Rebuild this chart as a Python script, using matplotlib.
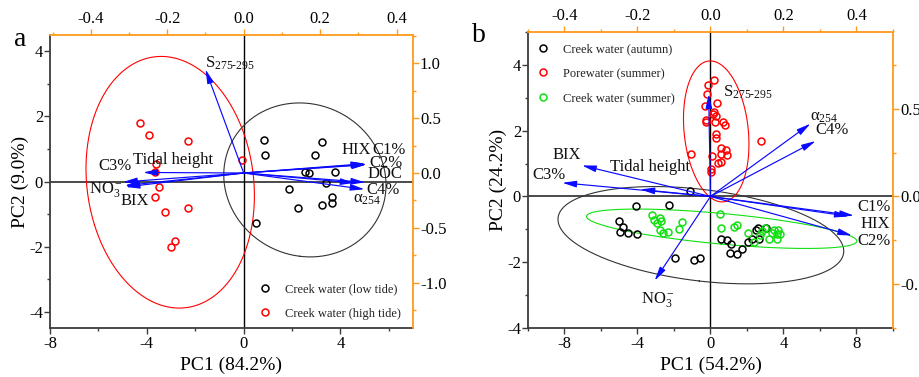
import numpy as np
import matplotlib
matplotlib.use('Agg')
import matplotlib.pyplot as plt
from matplotlib.ticker import MultipleLocator, FormatStrFormatter

plt.rcParams['font.family'] = ['Liberation Serif', 'DejaVu Serif']
plt.rcParams['mathtext.fontset'] = 'custom'
plt.rcParams['mathtext.rm'] = 'Liberation Serif'
plt.rcParams['mathtext.it'] = 'Liberation Serif:italic'
plt.rcParams['axes.unicode_minus'] = False

ORANGE = '#ff9a1a'
GRAY = '#3c3c3c'
GREEN = '#11e011'

# ---------------- panel a : scores ----------------
a_low_x = [0.84, 0.89, 3.26, 2.96, 2.53, 2.69, 3.78, 3.41, 1.86, 2.23, 3.23, 3.64, 3.64, 0.51]
a_low_y = [1.27, 0.83, 1.20, 0.80, 0.29, 0.25, 0.28, -0.06, -0.24, -0.82, -0.72, -0.48, -0.65, -1.26]
a_high_x = [-4.29, -3.92, -2.30, -3.62, -3.68, -0.07, -3.48, -3.64, -3.23, -2.31, -2.83, -3.01]
a_high_y = [1.80, 1.43, 1.25, 0.53, 0.28, 0.66, -0.16, -0.47, -0.93, -0.82, -1.82, -2.02]

# panel a : loadings
a_vars = ['S', 'Tidal height', 'C3%', 'NO3', 'BIX', 'HIX', 'C1%', 'C2%', 'DOC', 'C4%', 'a254']
a_load_x = [-0.100, -0.263, -0.316, -0.311, -0.309, 0.318, 0.322, 0.320, 0.318, 0.316, 0.290]
a_load_y = [0.943, 0.005, -0.082, -0.114, -0.127, 0.085, 0.080, 0.075, -0.085, -0.148, -0.090]

# ---------------- panel b : scores ----------------
b_aut_x = [-1.10, -4.07, -2.25, -4.99, -4.80, -4.97, -4.51, -4.00, -1.95, -0.90, -0.55, 0.55,
           0.91, 1.10, 1.06, 1.46, 1.73, 2.05, 2.28, 2.65, 2.52, 2.61, 3.07]
b_aut_y = [0.17, -0.28, -0.25, -0.75, -0.94, -1.08, -1.11, -1.15, -1.87, -1.94, -1.87, -1.28,
           -1.33, -1.46, -1.71, -1.74, -1.61, -1.37, -1.28, -1.30, -1.02, -0.96, -0.97]
b_pore_x = [0.22, -0.16, -0.18, 0.37, -0.29, 0.22, 0.15, 0.29, -0.27, -0.27, 0.27, 0.69, 0.77,
            0.33, 0.31, 2.78, 0.57, 0.86, 0.58, 0.93, -1.04, 0.07, 0.55, 0.40, 0.02, 0.02]
b_pore_y = [3.54, 3.38, 3.11, 2.85, 2.74, 2.58, 2.51, 2.44, 2.34, 2.25, 2.27, 2.26, 2.17,
            1.89, 1.78, 1.70, 1.46, 1.41, 1.30, 1.27, 1.28, 1.24, 1.05, 1.02, 0.85, 0.73]
b_sum_x = [-3.23, -2.78, -3.11, -2.70, -2.92, -2.79, -2.59, -2.32, -1.55, -1.75,
           0.51, 0.57, 1.28, 1.46, 2.05, 2.41, 2.74, 2.83, 3.20, 3.38, 3.47, 3.62, 3.69, 3.80, 3.65, 3.00]
b_sum_y = [-0.57, -0.67, -0.72, -0.75, -0.81, -1.03, -1.10, -1.08, -0.77, -0.99,
           -0.54, -0.96, -0.92, -0.87, -1.10, -1.40, -1.18, -1.05, -1.30, -1.12, -1.03, -1.15, -1.03, -1.15, -1.30, -0.95]

# panel b : loadings
b_vars = ['S', 'a254', 'C4%', 'BIX', 'C3%', 'Tidal height', 'NO3', 'C1%', 'HIX', 'C2%']
b_load_x = [-0.005, 0.274, 0.288, -0.352, -0.406, -0.192, -0.153, 0.393, 0.379, 0.388]
b_load_y = [0.583, 0.415, 0.316, 0.177, 0.078, 0.040, -0.480, -0.109, -0.113, -0.223]

label_text = {'S': 'S$_{275\u2010295}$', 'NO3': 'NO$_3^-$', 'a254': '\u03b1$_{254}$'}

# label positions (score coordinates)
a_label_pos = {'S': (-1.6, 3.62), 'Tidal height': (-4.58, 0.66), 'C3%': (-6.02, 0.47),
               'NO3': (-6.39, -0.26), 'BIX': (-5.08, -0.6), 'HIX': (4.03, 0.96),
               'C1%': (5.31, 0.96), 'C2%': (5.2, 0.57), 'DOC': (5.13, 0.22),
               'C4%': (5.06, -0.25), 'a254': (4.51, -0.55)}
b_label_pos = {'S': (0.69, 3.16), 'a254': (5.48, 2.42), 'C4%': (5.75, 2.01), 'BIX': (-8.68, 1.26),
               'C3%': (-9.77, 0.65), 'Tidal height': (-5.48, 0.9), 'NO3': (-3.78, -3.12),
               'C1%': (8.04, -0.33), 'HIX': (8.22, -0.84), 'C2%': (8.04, -1.35)}


def conf_ellipse(x, y, npts=300):
    # 95% confidence ellipse (population), as drawn by Origin
    x = np.asarray(x)
    y = np.asarray(y)
    n = len(x)
    m = n - 2
    f = m / 2.0 * (0.05 ** (-2.0 / m) - 1)
    k = np.sqrt(2.0 * (n - 1) * (n + 1) / (n * m) * f)
    vals, vecs = np.linalg.eigh(np.cov(x, y))
    t = np.linspace(0, 2 * np.pi, npts)
    circ = np.vstack([np.cos(t), np.sin(t)])
    pts = vecs @ (np.sqrt(vals)[:, None] * circ) * k
    return x.mean() + pts[0], y.mean() + pts[1]


def make_axes(fig, rect, xlim, ylim, lxlim, lylim, xmaj, ymaj):
    ax = fig.add_axes(rect)
    ax2 = fig.add_axes(rect, facecolor='none')
    ax.set_xlim(xlim)
    ax.set_ylim(ylim)
    ax2.set_xlim(lxlim)
    ax2.set_ylim(lylim)
    for s in ['top', 'right']:
        ax.spines[s].set_visible(False)
    for s in ['left', 'bottom']:
        ax.spines[s].set_color(GRAY)
        ax.spines[s].set_linewidth(1.3)
        ax2.spines[s].set_visible(False)
    for s in ['top', 'right']:
        ax2.spines[s].set_color(ORANGE)
        ax2.spines[s].set_linewidth(1.3)
    ax.xaxis.set_major_locator(MultipleLocator(xmaj))
    ax.xaxis.set_minor_locator(MultipleLocator(xmaj / 2))
    ax.yaxis.set_major_locator(MultipleLocator(ymaj))
    ax.yaxis.set_minor_locator(MultipleLocator(ymaj / 2))
    ax.tick_params(which='both', direction='out', color=GRAY, labelsize=12, width=1)
    ax.tick_params(which='major', length=4)
    ax.tick_params(which='minor', length=2.5)
    ax.tick_params(axis='x', pad=1.5)
    ax.tick_params(axis='y', pad=1)

    ax2.xaxis.set_ticks_position('top')
    ax2.yaxis.set_ticks_position('right')
    ax2.xaxis.set_label_position('top')
    ax2.yaxis.set_label_position('right')
    ax2.xaxis.set_major_locator(MultipleLocator(0.2))
    ax2.xaxis.set_minor_locator(MultipleLocator(0.1))
    ax2.yaxis.set_major_locator(MultipleLocator(0.5))
    ax2.yaxis.set_minor_locator(MultipleLocator(0.25))
    ax2.xaxis.set_major_formatter(FormatStrFormatter('%.1f'))
    ax2.yaxis.set_major_formatter(FormatStrFormatter('%.1f'))
    ax2.tick_params(which='both', direction='out', color=ORANGE, labelsize=12, width=1)
    ax2.tick_params(which='major', length=4)
    ax2.tick_params(which='minor', length=2.5)
    ax2.tick_params(axis='x', pad=2)
    ax2.tick_params(axis='y', pad=1)

    ax.axhline(0, color=GRAY, lw=1.3, zorder=1)
    ax.axvline(0, color='black', lw=1.0, zorder=1)
    return ax, ax2


def draw_arrows(ax2, lx, ly):
    for x, y in zip(lx, ly):
        ax2.annotate('', xy=(x, y), xytext=(0, 0),
                     arrowprops=dict(arrowstyle='-|>,head_length=0.6,head_width=0.14',
                                     color='#0a0aff', lw=0.85, mutation_scale=14,
                                     shrinkA=0, shrinkB=0))


def draw_labels(ax, names, pos):
    for nm in names:
        x, y = pos[nm]
        ax.text(x, y, label_text.get(nm, nm), fontsize=12, ha='left', va='center',
                color='#111111', zorder=5)


def point_style(c):
    return dict(ls='', marker='o', mfc='none', mec=c, ms=5, mew=1.1, zorder=3)


fig = plt.figure(figsize=(9.2, 3.77), dpi=100)

# ---------------- panel a ----------------
axa, axa2 = make_axes(fig, [0.0543, 0.130, 0.3946, 0.777], (-8, 7), (-4.5, 4.5),
                      (-0.507, 0.443), (-1.41, 1.255), 4, 2)
ex, ey = conf_ellipse(a_low_x, a_low_y)
axa.plot(ex, ey, color='#333333', lw=0.8, zorder=2)
ex, ey = conf_ellipse(a_high_x, a_high_y)
axa.plot(ex, ey, color='red', lw=0.8, zorder=2)
axa.plot(a_low_x, a_low_y, label='Creek water (low tide)', **point_style('black'))
axa.plot(a_high_x, a_high_y, label='Creek water (high tide)', **point_style('red'))
draw_arrows(axa2, a_load_x, a_load_y)
draw_labels(axa, a_vars, a_label_pos)
axa.set_xlabel('PC1 (84.2%)', fontsize=14, labelpad=4)
axa.set_ylabel('PC2 (9.0%)', fontsize=14, labelpad=0)
leg = axa.legend(loc='upper left', bbox_to_anchor=(0.575, 0.153), frameon=False, fontsize=9,
                 handlelength=1.0, handletextpad=1.1, labelspacing=1.0, borderpad=0,
                 borderaxespad=0)
for t in leg.get_texts():
    t.set_color('#222222')
fig.text(0.015, 0.895, 'a', fontsize=20, va='center', ha='left')

# ---------------- panel b ----------------
axb, axb2 = make_axes(fig, [0.5739, 0.130, 0.3967, 0.785], (-10, 10), (-4, 5),
                      (-0.5, 0.5), (-0.75, 0.9375), 4, 2)
ex, ey = conf_ellipse(b_aut_x, b_aut_y)
axb.plot(ex, ey, color='#333333', lw=0.8, zorder=2)
ex, ey = conf_ellipse(b_pore_x, b_pore_y)
axb.plot(ex, ey, color='red', lw=0.8, zorder=2)
ex, ey = conf_ellipse(b_sum_x, b_sum_y)
axb.plot(ex, ey, color=GREEN, lw=0.8, zorder=2)
axb.plot(b_aut_x, b_aut_y, label='Creek water (autumn)', **point_style('black'))
axb.plot(b_pore_x, b_pore_y, label='Porewater (summer)', **point_style('red'))
axb.plot(b_sum_x, b_sum_y, label='Creek water (summer)', **point_style(GREEN))
draw_arrows(axb2, b_load_x, b_load_y)
draw_labels(axb, b_vars, b_label_pos)
axb.set_xlabel('PC1 (54.2%)', fontsize=14, labelpad=4)
axb.set_ylabel('PC2 (24.2%)', fontsize=14, labelpad=0)
leg = axb.legend(loc='upper left', bbox_to_anchor=(0.025, 0.962), frameon=False, fontsize=9,
                 handlelength=1.0, handletextpad=1.1, labelspacing=1.0, borderpad=0,
                 borderaxespad=0)
for t in leg.get_texts():
    t.set_color('#222222')
fig.text(0.513, 0.905, 'b', fontsize=20, va='center', ha='left')

fig.savefig('out.png', dpi=100)
